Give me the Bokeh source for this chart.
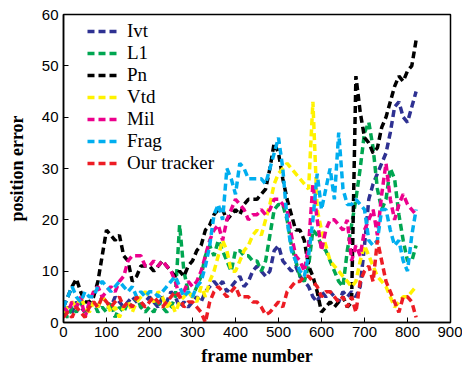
from bokeh.plotting import figure
from bokeh.models import Legend, LegendItem, FixedTicker, Range1d
from bokeh.embed import file_html
from bokeh.resources import INLINE

frames = [0, 10, 20, 30, 40, 50, 60, 70, 80, 90,
          100, 110, 120, 130, 140, 150, 160, 170, 180, 190,
          200, 210, 220, 230, 240, 250, 260, 270, 280, 290,
          300, 310, 320, 330, 340, 350, 360, 370, 380, 390,
          400, 410, 420, 430, 440, 450, 460, 470, 480, 490,
          500, 510, 520, 530, 540, 550, 560, 570, 580, 590,
          600, 610, 620, 630, 640, 650, 660, 670, 680, 690,
          700, 710, 720, 730, 740, 750, 760, 770, 780, 790,
          800, 810, 820]

ivt = [2, 3, 2, 4, 3, 2, 3, 4, 3, 5,
       4, 3, 5, 4, 3, 4, 5, 4, 3, 4,
       5, 4, 3, 5, 4, 6, 5, 3, 4, 3,
       4, 5, 4, 6, 7, 8, 7, 8, 6, 7,
       8, 9, 7, 8, 10, 11, 10, 9, 10, 14,
       15, 12, 11, 10, 11, 9, 8, 7, 5, 4,
       6, 5, 6, 5, 4, 6, 5, 6, 5, 7,
       15, 24, 27, 29, 31, 33, 37, 42, 43, 40,
       39, 42, 45]

l1 = [2, 1, 3, 2, 4, 2, 3, 4, 2, 3,
      2, 4, 1, 3, 2, 4, 3, 5, 3, 2,
      3, 2, 4, 3, 2, 3, 5, 19, 10, 6,
      5, 7, 9, 13, 15, 13, 16, 14, 12, 10,
      14, 14, 13, 13, 12, 12, 10, 12, 17, 22,
      23, 23, 20, 15, 12, 9, 8, 11, 18, 17,
      15, 14, 12, 10, 8, 7, 14, 19, 24, 30,
      37, 39, 34, 26, 22, 24, 30, 28, 21, 16,
      12, 12, 15]

pn = [3, 5, 7, 8.5, 6, 4, 4, 5, 8, 13,
      18, 17, 16, 17, 13, 12, 8, 9, 11, 11,
      11, 10, 11, 12, 11, 10, 9, 10, 9, 11,
      12, 14, 15, 18, 19, 21, 22, 22, 20, 21,
      22, 21, 23, 24, 24, 24, 25, 26, 30, 35,
      33, 28, 24, 21, 18, 18, 16, 11, 9, 6,
      2, 3, 4, 3, 4, 5, 3, 4, 48, 41,
      36, 35, 33, 34, 38, 40, 43, 46, 48, 47,
      49, 50, 55]

vtd = [2, 3, 4, 3, 5, 3, 2, 4, 3, 5,
       4, 2, 3, 1, 3, 4, 2, 4, 5, 6,
       5, 4, 6, 5, 3, 4, 2, 4, 5, 6,
       5, 4, 7, 5, 8, 10, 13, 16, 14, 10,
       10, 12, 14, 15, 17, 18, 17, 20, 23, 27,
       29, 30, 31, 30, 29, 28, 27, 26, 43, 22,
       18, 15, 12, 11, 10, 9, 8, 7, 8, 12,
       15, 13, 11, 9, 8, 7, 5, 3, 4, 5,
       5, 6, 7]

mil = [3, 2, 4, 3, 5, 1, 4, 6, 7, 5,
       6, 7, 6, 8, 9, 12, 13, 13, 13, 11,
       11, 12, 11, 12, 11, 10, 8, 5, 6, 8,
       7, 8, 10, 13, 16, 18, 19, 16, 20, 22,
       24, 23, 22, 20, 21, 21, 22, 21, 22, 24,
       24, 23, 22, 17, 13, 12, 10, 15, 27, 20,
       14, 18, 20, 20, 19, 18, 20, 12, 15, 13,
       18, 20, 22, 17, 25, 31, 24, 20, 23, 25,
       23, 22, 21]

frag = [3, 5, 7, 5, 4, 6, 5, 5, 7, 8,
        7, 6, 7, 8, 7, 6, 7, 5, 6, 5,
        6, 6, 5, 6, 7, 8, 9, 7, 5, 6,
        5, 7, 8, 11, 15, 21, 23, 20, 30, 28,
        25, 31, 30, 28, 28, 28, 28, 27, 30, 33,
        36, 30, 20, 14, 12, 10, 9, 13, 20, 29,
        22, 26, 30, 24, 37, 26, 23, 23, 24, 23,
        22, 16, 15, 16, 22, 22, 18, 15, 16, 12,
        10, 17, 22]

ours = [1, 2, 1, 3, 2, 1, 3, 4, 3, 5,
        4, 3, 4, 5, 3, 4, 3, 5, 4, 3,
        4, 5, 4, 3, 4, 5, 6, 5, 3, 4,
        4, 3, 2, 0, 4, 6, 7, 6, 5, 6,
        7, 5, 5, 5, 4, 4, 3, 1.5, 2, 3,
        4, 3, 6, 7, 8, 8, 9, 9, 8, 7,
        5, 6, 6, 5, 4, 5, 3, 5, 2, 8,
        10, 11, 8, 16, 12, 8, 6, 4, 2, 5,
        5, 4, 1]

names = ["Ivt", "L1", "Pn", "Vtd", "Mil", "Frag", "Our tracker"]
series = [ivt, l1, pn, vtd, mil, frag, ours]
colors = ["#2E3192", "#00A651", "#000000", "#FFF200", "#EC008C", "#00AEEF", "#ED1C24"]

x_ticks = [0, 100, 200, 300, 400, 500, 600, 700, 800, 900]
y_ticks = [0, 10, 20, 30, 40, 50, 60]

p = figure(width=462, height=371, output_backend="svg", toolbar_location=None,
           x_range=Range1d(0, 900), y_range=Range1d(0, 60),
           min_border_left=63, min_border_right=12, min_border_top=14, min_border_bottom=49)
p.background_fill_color = "white"
p.border_fill_color = "white"
p.outline_line_color = "black"
p.outline_line_width = 1.5
p.xgrid.visible = False
p.ygrid.visible = False

items = []
for name, ys, c in zip(names, series, colors):
    r = p.line(frames, ys, line_color=c, line_width=3.5, line_dash="7 4")
    items.append(LegendItem(label=name, renderers=[r]))

legend = Legend(items=items, location=(24, 148))
legend.border_line_color = None
legend.background_fill_alpha = 0
legend.padding = 0
legend.margin = 0
legend.spacing = 0
legend.glyph_width = 32
legend.glyph_height = 20
legend.label_height = 20
legend.label_standoff = 8
legend.label_text_font = "'Liberation Serif', 'Times New Roman', serif"
legend.label_text_font_size = "19px"
legend.label_text_color = "black"
p.add_layout(legend)

for ax in (p.xaxis[0], p.yaxis[0]):
    ax.major_label_text_font = "'Liberation Sans', Arial, sans-serif"
    ax.major_label_text_font_size = "15px"
    ax.major_label_text_color = "black"
    ax.axis_label_text_font = "'Liberation Serif', serif"
    ax.axis_label_text_font_style = "bold"
    ax.axis_label_text_font_size = "18px"
    ax.axis_label_text_color = "black"
    ax.axis_line_color = "black"
    ax.axis_line_width = 1.5
    ax.major_tick_in = 5
    ax.major_tick_out = 0
    ax.major_tick_line_color = "black"
    ax.minor_tick_line_color = None

p.xaxis[0].ticker = FixedTicker(ticks=x_ticks)
p.yaxis[0].ticker = FixedTicker(ticks=y_ticks)
p.xaxis[0].axis_label = "frame number"
p.yaxis[0].axis_label = "position error"
p.xaxis[0].major_label_standoff = 4
p.xaxis[0].axis_label_standoff = 6
p.yaxis[0].major_label_standoff = 5
p.yaxis[0].axis_label_standoff = 12

open("out.html", "w").write(file_html(p, INLINE))
